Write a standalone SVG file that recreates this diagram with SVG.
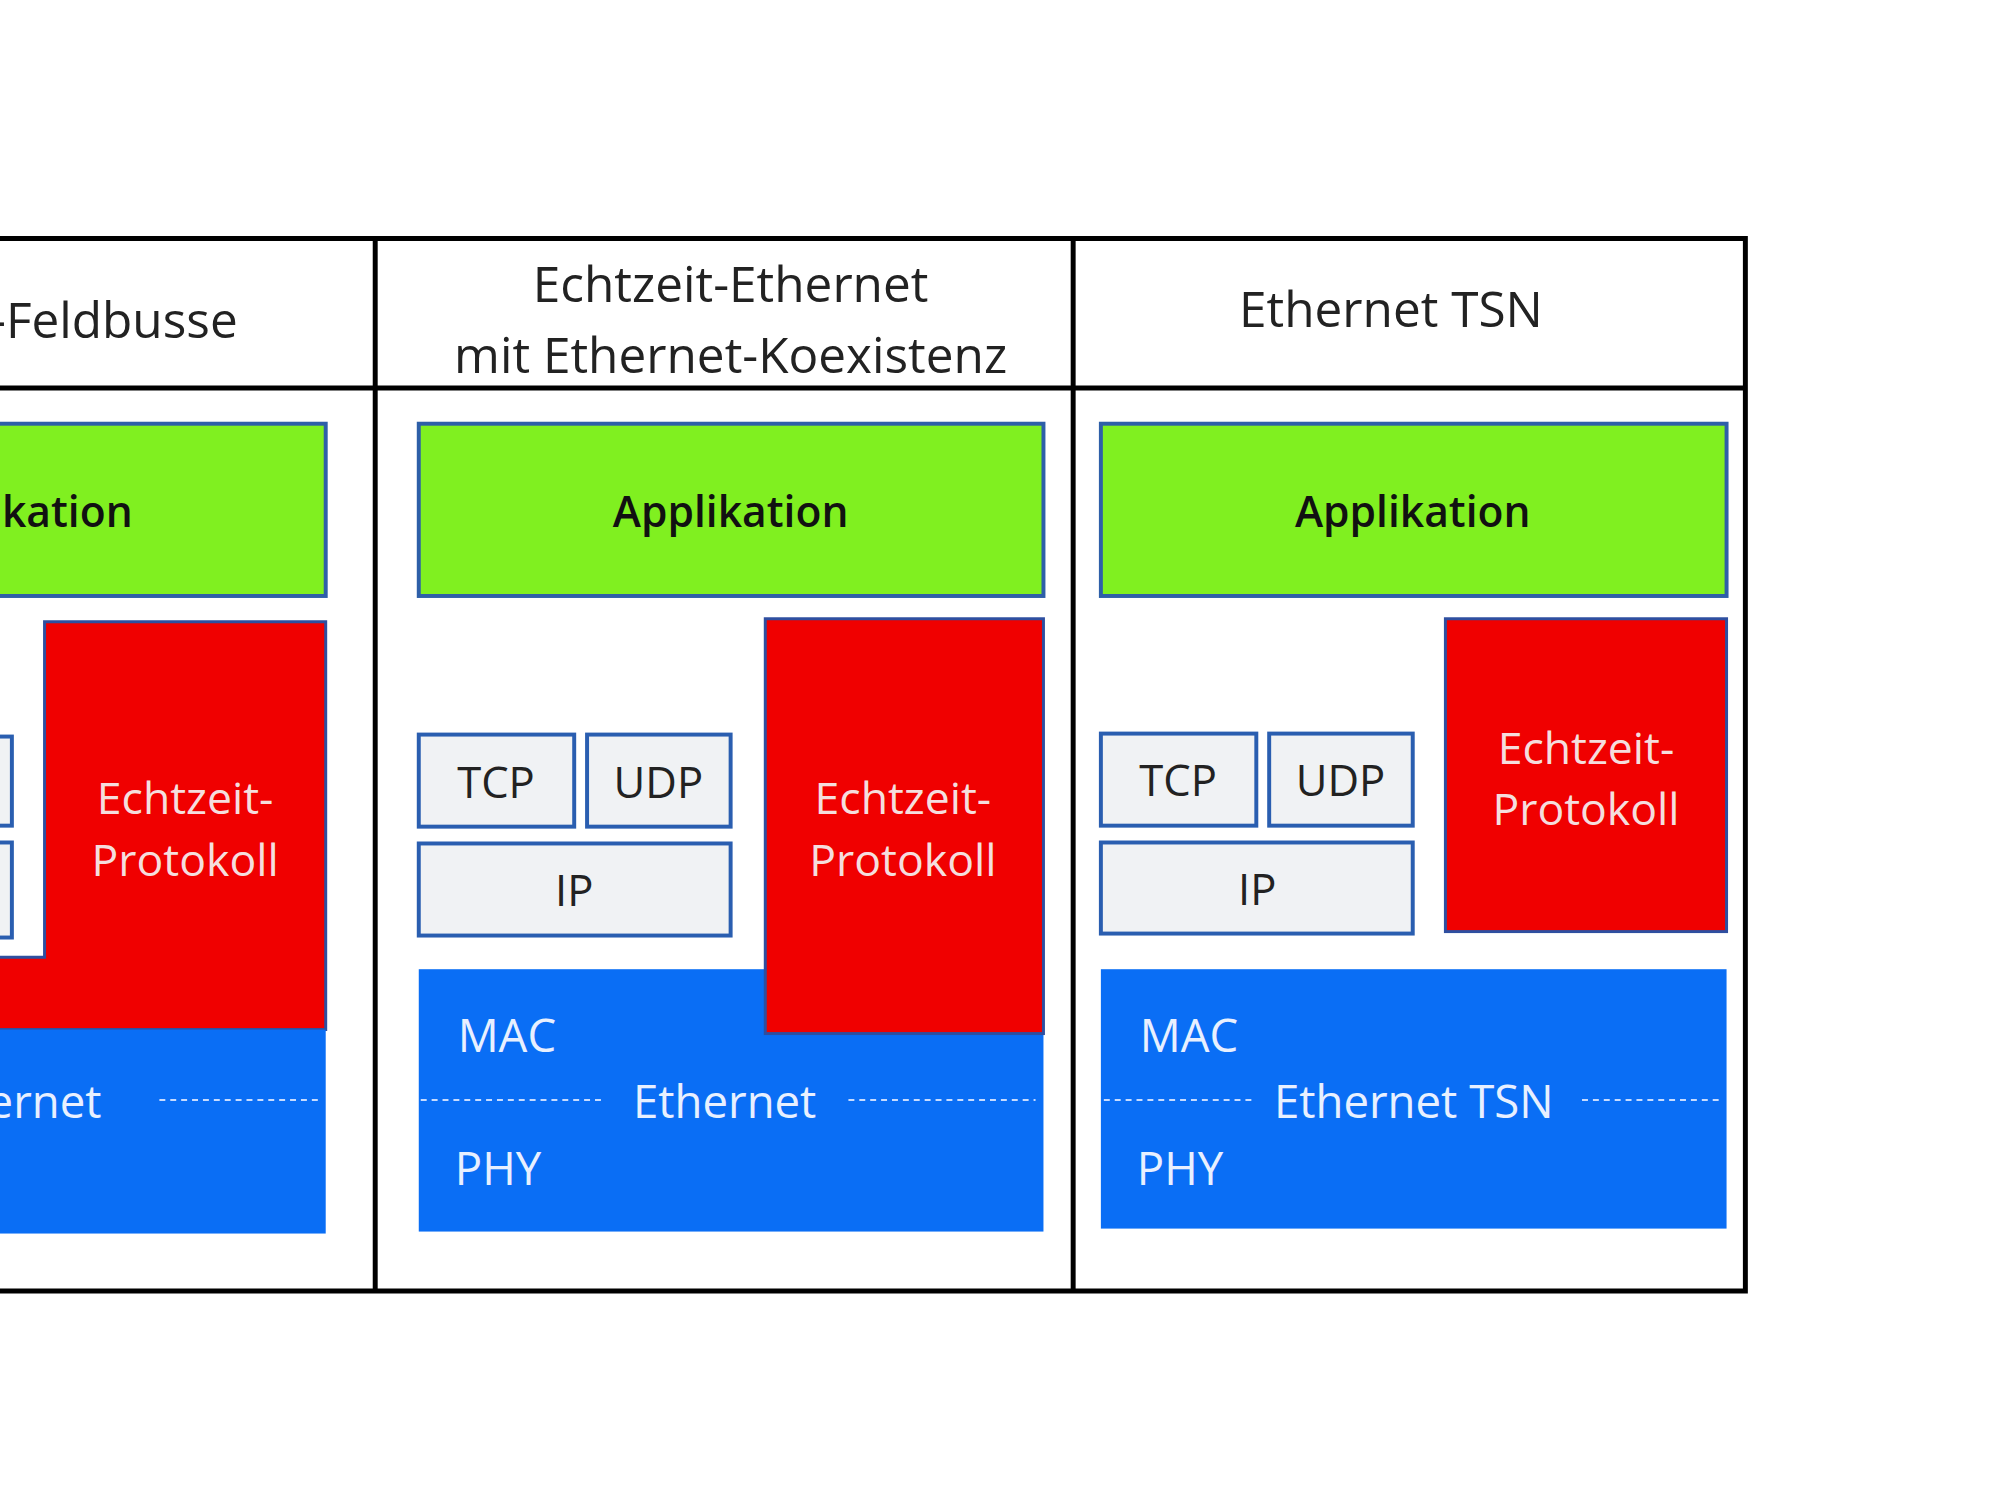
<svg xmlns="http://www.w3.org/2000/svg" width="2000" height="1500" viewBox="0 0 2000 1500">
<style>
text{font-family:"Open Sans","Liberation Sans",sans-serif;text-anchor:middle;dominant-baseline:central}
.h{font-size:50px;fill:#222}
.g{fill:#80f020;stroke:#2e5fa8;stroke-width:4}
.r{fill:#f00000;stroke:#2e4fa0;stroke-width:3}
.b{fill:#0a6ef5}
.w{fill:#f0f2f4;stroke:#2a5eb0;stroke-width:4}
.gt{font-size:43px;font-weight:600;fill:#111}
.rt{font-size:45px;fill:#f5dede}
.bt{font-size:46px;fill:#e8f0ff}
.wt{font-size:44px;fill:#222}
.d{stroke:#c8dcff;stroke-width:2;stroke-dasharray:6 5}
</style>
<rect width="2000" height="1500" fill="#fff"/>
<g transform="scale(0.99)">
<g id="frame" fill="none" stroke="#000" stroke-width="5">
<path d="M0 241H1763V1304H0M0 392H1763M379 241V1304M1084 241V1304"/>
</g>
<g id="headers">
<text class="h" x="115" y="322">-Feldbusse</text>
<text class="h" x="738" y="286">Echtzeit-Ethernet</text>
<text class="h" x="738" y="358">mit Ethernet-Koexistenz</text>
<text class="h" x="1405" y="311">Ethernet TSN</text>
</g>
<g id="col1">
<rect class="g" x="-20" y="428" width="349" height="174"/>
<text class="gt" x="68" y="515">kation</text>
<path class="r" d="M45 628H329V1040H-10V967H45Z"/>
<rect class="w" x="-100" y="744" width="112" height="90"/>
<rect class="w" x="-100" y="851" width="112" height="96"/>
<rect class="b" x="-10" y="1040" width="339" height="206"/>
<text class="rt" x="187" y="805">Echtzeit-</text>
<text class="rt" x="187" y="867">Protokoll</text>
<text class="bt" x="45" y="1111">ernet</text>
<line class="d" x1="161" y1="1111" x2="322" y2="1111"/>
</g>
<g id="col2">
<rect class="g" x="423" y="428" width="631" height="174"/>
<text class="gt" x="738" y="515">Applikation</text>
<rect class="w" x="423" y="742" width="157" height="93"/>
<text class="wt" x="501" y="789">TCP</text>
<rect class="w" x="593" y="742" width="145" height="93"/>
<text class="wt" x="665" y="789">UDP</text>
<rect class="w" x="423" y="852" width="315" height="93"/>
<text class="wt" x="580" y="898">IP</text>
<rect class="b" x="423" y="979" width="631" height="265"/>
<rect class="r" x="773" y="625" width="281" height="419"/>
<text class="rt" x="912" y="805">Echtzeit-</text>
<text class="rt" x="912" y="867">Protokoll</text>
<text class="bt" x="512" y="1044">MAC</text>
<text class="bt" x="732" y="1111">Ethernet</text>
<text class="bt" x="503" y="1179">PHY</text>
<line class="d" x1="425" y1="1111" x2="612" y2="1111"/>
<line class="d" x1="857" y1="1111" x2="1046" y2="1111"/>
</g>
<g id="col3">
<rect class="g" x="1112" y="428" width="632" height="174"/>
<text class="gt" x="1427" y="515">Applikation</text>
<rect class="w" x="1112" y="741" width="157" height="93"/>
<text class="wt" x="1190" y="787">TCP</text>
<rect class="w" x="1282" y="741" width="145" height="93"/>
<text class="wt" x="1354" y="787">UDP</text>
<rect class="w" x="1112" y="851" width="315" height="92"/>
<text class="wt" x="1270" y="897">IP</text>
<rect class="r" x="1460" y="625" width="284" height="316"/>
<text class="rt" x="1602" y="754">Echtzeit-</text>
<text class="rt" x="1602" y="816">Protokoll</text>
<rect class="b" x="1112" y="979" width="632" height="262"/>
<text class="bt" x="1201" y="1044">MAC</text>
<text class="bt" x="1428" y="1111">Ethernet TSN</text>
<text class="bt" x="1192" y="1179">PHY</text>
<line class="d" x1="1115" y1="1111" x2="1265" y2="1111"/>
<line class="d" x1="1598" y1="1111" x2="1737" y2="1111"/>
</g>
</g>
</svg>
